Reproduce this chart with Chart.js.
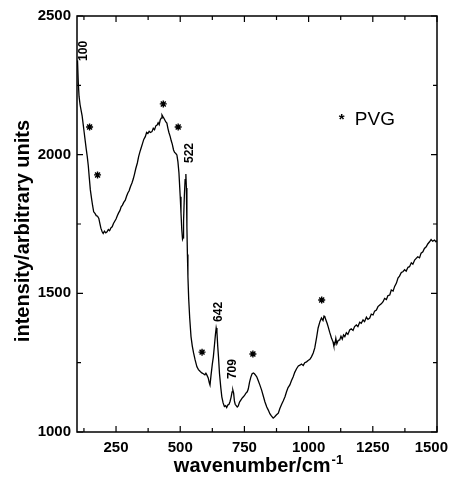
<!DOCTYPE html>
<html>
<head>
<meta charset="utf-8">
<script src="https://cdn.jsdelivr.net/npm/chart.js@4"></script>
<style>
html, body { margin: 0; padding: 0; background: #fff; }
</style>
</head>
<body>
<canvas id="myChart" width="449" height="477"></canvas>
<script>
// spectrum
var wavenumber = [100,103,106,110,114,118,122,126,130,134,138,142,146,150,155,159,163,168,173,178,183,187,191,196,200,205,210,215,220,225,230,235,240,245,250,255,260,265,270,275,280,286,291,296,301,306,312,317,322,327,333,338,343,348,353,358,364,369,374,379,384,390,395,400,405,410,414,418,422,426,429,432,436,440,444,448,452,456,461,465,469,474,478,482,487,491,495,500,503,506,509,511,513,516,519,522,524,526,528,530,533,537,542,547,552,558,565,571,578,584,590,596,600,604,609,613,616,620,625,629,633,637,640,643,646,649,653,658,662,667,672,677,681,686,690,694,698,702,705,708,711,714,718,722,726,731,736,741,746,751,756,761,765,770,775,780,785,789,794,798,804,810,817,824,830,837,843,849,855,862,868,875,882,888,895,901,908,914,920,927,933,940,946,953,960,966,972,979,985,992,998,1005,1011,1018,1024,1031,1037,1044,1050,1056,1060,1063,1067,1072,1076,1082,1089,1095,1098,1102,1106,1110,1115,1121,1126,1131,1136,1141,1147,1153,1160,1166,1173,1179,1186,1192,1199,1205,1212,1218,1225,1231,1238,1244,1251,1257,1264,1270,1277,1283,1290,1296,1303,1309,1316,1322,1329,1335,1342,1348,1354,1361,1367,1374,1380,1387,1393,1400,1406,1413,1419,1425,1432,1438,1445,1451,1458,1464,1471,1477,1483,1490,1496,1500];
var intensity = [2340,2260,2210,2180,2160,2140,2110,2080,2050,2020,1993,1960,1915,1873,1840,1815,1794,1788,1780,1778,1770,1752,1735,1722,1716,1724,1718,1722,1730,1726,1736,1740,1752,1760,1768,1780,1790,1798,1812,1818,1828,1836,1850,1862,1870,1884,1898,1912,1930,1950,1970,1993,2010,2025,2040,2055,2065,2080,2076,2084,2080,2083,2095,2090,2104,2107,2115,2108,2125,2132,2143,2138,2132,2125,2118,2114,2095,2080,2065,2050,2038,2017,2008,2005,1999,1975,1935,1848,1790,1730,1695,1700,1760,1850,1910,1930,1880,1740,1640,1560,1480,1410,1344,1310,1285,1260,1235,1225,1218,1213,1210,1206,1212,1205,1195,1178,1169,1205,1245,1271,1310,1350,1375,1360,1310,1271,1210,1160,1127,1105,1092,1095,1088,1098,1100,1110,1125,1145,1151,1140,1112,1100,1095,1090,1094,1108,1115,1122,1127,1133,1140,1145,1155,1180,1198,1210,1213,1210,1204,1199,1185,1170,1151,1128,1108,1090,1079,1066,1058,1050,1055,1062,1068,1085,1100,1112,1127,1145,1160,1170,1185,1199,1215,1228,1238,1241,1245,1240,1250,1253,1258,1262,1271,1285,1303,1340,1375,1398,1411,1402,1418,1416,1405,1392,1380,1360,1339,1325,1312,1314,1338,1318,1330,1332,1345,1335,1350,1344,1358,1352,1368,1372,1366,1380,1386,1380,1396,1392,1404,1398,1414,1406,1411,1425,1422,1436,1440,1452,1458,1462,1470,1482,1478,1492,1494,1512,1508,1525,1537,1555,1562,1575,1578,1585,1580,1594,1596,1610,1605,1620,1626,1632,1628,1645,1650,1662,1668,1678,1686,1694,1688,1692,1686,1690];

// PVG bands (stars)
var starX = [147, 178, 434, 492, 585, 783, 1051];
var starY = [2100, 1927, 2183, 2100, 1288, 1281, 1476];

// labelled peaks
var peakText = ["100", "522", "642", "709"];
var peakX = [123, 535, 648, 706];
var peakY = [2374, 2006, 1433, 1227];

var xTicks = [125, 250, 375, 500, 625, 750, 875, 1000, 1125, 1250, 1375, 1500];
var yTicks = [1000, 1250, 1500, 1750, 2000, 2250, 2500];

var points = wavenumber.map(function(w, i){ return {x: w, y: intensity[i]}; });
var stars = starX.map(function(w, i){ return {x: w, y: starY[i]}; });

var FONT = "'Liberation Sans', Arial, sans-serif";
var tickFont = {family: FONT, size: 15, weight: "bold"};

// frame, inward ticks, labels and axis titles
var decorations = {
  id: "decorations",
  afterDraw: function(chart){
    var ctx = chart.ctx;
    var a = chart.chartArea;
    var sx = chart.scales.x, sy = chart.scales.y;
    ctx.save();
    ctx.strokeStyle = "#000";
    ctx.lineWidth = 1.5;
    ctx.strokeRect(a.left, a.top, a.right - a.left, a.bottom - a.top);
    ctx.lineWidth = 1.2;
    ctx.beginPath();
    xTicks.forEach(function(v){
      var px = sx.getPixelForValue(v);
      var len = v % 250 === 0 ? 6 : 4;
      ctx.moveTo(px, a.bottom); ctx.lineTo(px, a.bottom - len);
      ctx.moveTo(px, a.top); ctx.lineTo(px, a.top + len);
    });
    yTicks.forEach(function(v){
      var py = sy.getPixelForValue(v);
      var len = v % 500 === 0 ? 6 : 4;
      ctx.moveTo(a.left, py); ctx.lineTo(a.left + len, py);
      ctx.moveTo(a.right, py); ctx.lineTo(a.right - len, py);
    });
    ctx.stroke();

    ctx.fillStyle = "#000";

    // last x label sits pushed in against the right edge
    ctx.font = "bold 15px " + FONT;
    ctx.textAlign = "right";
    ctx.textBaseline = "middle";
    ctx.fillText(String(xTicks[xTicks.length - 1]), 448, a.bottom + 16);

    ctx.font = "bold 12px " + FONT;
    ctx.textAlign = "center";
    peakText.forEach(function(t, i){
      ctx.save();
      ctx.translate(sx.getPixelForValue(peakX[i]), sy.getPixelForValue(peakY[i]));
      ctx.rotate(-Math.PI / 2);
      ctx.fillText(t, 0, 0);
      ctx.restore();
    });

    // legend
    var lx = sx.getPixelForValue(1180), ly = sy.getPixelForValue(2107);
    ctx.textAlign = "left";
    ctx.textBaseline = "alphabetic";
    ctx.font = "19px " + FONT;
    ctx.fillText("PVG", lx, ly);
    ctx.font = "bold 15px " + FONT;
    ctx.fillText("*", lx - 16, ly - 1);

    // x title with superscript
    ctx.font = "bold 20px " + FONT;
    var main = "wavenumber/cm";
    var w1 = ctx.measureText(main).width;
    ctx.font = "bold 13px " + FONT;
    var w2 = ctx.measureText("-1").width;
    var x0 = 258 - (w1 + w2) / 2;
    ctx.font = "bold 20px " + FONT;
    ctx.fillText(main, x0, 472);
    ctx.font = "bold 13px " + FONT;
    ctx.fillText("-1", x0 + w1 + 1, 464);

    // y title
    ctx.save();
    ctx.translate(29, 231);
    ctx.rotate(-Math.PI / 2);
    ctx.textAlign = "center";
    ctx.font = "bold 20px " + FONT;
    ctx.fillText("intensity/arbitrary units", 0, 0);
    ctx.restore();
    ctx.restore();
  }
};

new Chart("myChart", {
  type: "scatter",
  data: {
    datasets: [{
      data: points,
      showLine: true,
      borderColor: "#000",
      borderWidth: 1.3,
      pointRadius: 0,
      tension: 0
    }, {
      data: stars,
      showLine: false,
      pointStyle: "star",
      pointRadius: 3.5,
      borderColor: "#000",
      backgroundColor: "#000",
      borderWidth: 1.4
    }]
  },
  options: {
    responsive: false,
    animation: false,
    devicePixelRatio: 1,
    layout: {padding: {left: 0, right: 12, top: 16, bottom: 0}},
    plugins: {legend: {display: false}, tooltip: {enabled: false}},
    scales: {
      x: {
        type: "linear",
        min: 98,
        max: 1500,
        grid: {display: false, drawTicks: false},
        border: {display: false},
        afterBuildTicks: function(s){ s.ticks = xTicks.map(function(v){ return {value: v}; }); },
        afterFit: function(s){ s.height = 45; s.paddingLeft = 0; s.paddingRight = 0; },
        ticks: {
          autoSkip: false,
          maxRotation: 0,
          padding: 7,
          color: "#000",
          font: tickFont,
          callback: function(v){ return (v % 250 === 0 && v < 1500) ? v : ""; }
        }
      },
      y: {
        min: 1000,
        max: 2500,
        grid: {display: false, drawTicks: false},
        border: {display: false},
        afterBuildTicks: function(s){ s.ticks = yTicks.map(function(v){ return {value: v}; }); },
        afterFit: function(s){ s.width = 77; s.paddingTop = 0; s.paddingBottom = 0; },
        ticks: {
          autoSkip: false,
          padding: 6,
          color: "#000",
          font: tickFont,
          callback: function(v){ return v % 500 === 0 ? v : ""; }
        }
      }
    }
  },
  plugins: [decorations]
});
</script>
</body>
</html>
